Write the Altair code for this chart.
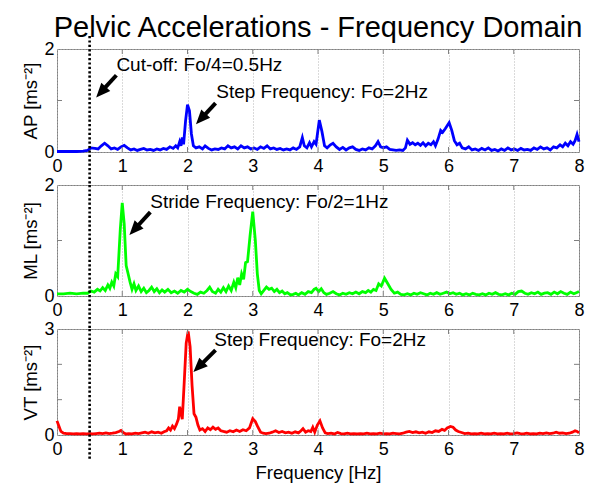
import math
import altair as alt
import pandas as pd

# ---------------- data ----------------
ap_f = [0.00,0.10,0.20,0.30,0.40,0.47,0.52,0.58,0.63,0.68,0.73,0.78,0.83,0.88,0.93,0.98,1.03,1.08,1.13,1.18,1.23,1.28,1.33,1.38,1.43,1.48,1.53,1.58,1.63,1.68,1.73,1.78,1.82,1.85,1.88,1.90,1.92,1.94,1.97,2.00,2.03,2.06,2.09,2.13,2.18,2.23,2.27,2.32,2.37,2.42,2.47,2.52,2.57,2.62,2.67,2.72,2.77,2.82,2.87,2.92,2.97,3.02,3.07,3.12,3.17,3.22,3.27,3.32,3.37,3.42,3.47,3.52,3.57,3.62,3.67,3.72,3.76,3.79,3.83,3.87,3.90,3.94,3.97,4.02,4.06,4.10,4.14,4.19,4.23,4.28,4.33,4.38,4.43,4.48,4.53,4.58,4.63,4.68,4.73,4.78,4.83,4.88,4.92,4.96,5.00,5.05,5.10,5.15,5.20,5.25,5.30,5.34,5.37,5.41,5.45,5.49,5.53,5.57,5.61,5.65,5.69,5.73,5.77,5.80,5.84,5.88,5.91,5.95,6.01,6.05,6.09,6.13,6.17,6.21,6.26,6.31,6.36,6.41,6.46,6.51,6.56,6.61,6.66,6.71,6.76,6.81,6.86,6.91,6.96,7.01,7.06,7.11,7.16,7.21,7.26,7.31,7.36,7.41,7.46,7.51,7.56,7.61,7.66,7.71,7.75,7.79,7.83,7.87,7.91,7.94,7.97,8.00]
ap_v = [0.01,0.01,0.01,0.01,0.015,0.03,0.08,0.07,0.06,0.12,0.17,0.12,0.06,0.08,0.05,0.10,0.13,0.08,0.04,0.06,0.03,0.05,0.07,0.04,0.05,0.03,0.06,0.04,0.07,0.05,0.10,0.07,0.12,0.08,0.20,0.12,0.28,0.15,0.60,0.92,0.80,0.35,0.12,0.08,0.10,0.06,0.12,0.07,0.04,0.06,0.05,0.08,0.06,0.12,0.08,0.10,0.06,0.12,0.08,0.10,0.06,0.08,0.05,0.10,0.07,0.12,0.06,0.08,0.05,0.07,0.04,0.06,0.04,0.08,0.05,0.10,0.28,0.12,0.08,0.18,0.10,0.20,0.15,0.62,0.40,0.12,0.08,0.14,0.17,0.10,0.05,0.09,0.04,0.08,0.10,0.05,0.03,0.06,0.04,0.08,0.06,0.12,0.20,0.10,0.08,0.10,0.05,0.04,0.03,0.04,0.03,0.08,0.23,0.15,0.18,0.14,0.17,0.13,0.18,0.12,0.17,0.14,0.20,0.12,0.25,0.42,0.38,0.45,0.57,0.42,0.22,0.14,0.17,0.08,0.06,0.10,0.04,0.06,0.03,0.07,0.04,0.08,0.03,0.05,0.02,0.06,0.03,0.08,0.04,0.06,0.03,0.07,0.04,0.05,0.03,0.08,0.05,0.10,0.06,0.08,0.04,0.10,0.08,0.14,0.10,0.17,0.12,0.20,0.15,0.22,0.34,0.20]

ml_f = [0.00,0.10,0.20,0.30,0.40,0.47,0.52,0.57,0.62,0.66,0.70,0.74,0.78,0.81,0.84,0.87,0.90,0.93,0.97,1.00,1.03,1.06,1.09,1.12,1.15,1.18,1.21,1.25,1.29,1.33,1.37,1.41,1.45,1.49,1.53,1.57,1.61,1.65,1.70,1.75,1.80,1.85,1.90,1.95,2.00,2.05,2.10,2.15,2.20,2.25,2.30,2.34,2.38,2.43,2.47,2.51,2.55,2.59,2.63,2.67,2.71,2.74,2.77,2.80,2.83,2.86,2.89,2.92,2.96,3.00,3.04,3.07,3.10,3.13,3.17,3.21,3.25,3.29,3.33,3.37,3.41,3.45,3.49,3.53,3.58,3.62,3.66,3.70,3.75,3.80,3.85,3.90,3.94,3.97,4.01,4.05,4.09,4.13,4.18,4.23,4.28,4.33,4.38,4.43,4.48,4.53,4.58,4.63,4.68,4.73,4.77,4.81,4.85,4.89,4.93,4.97,5.02,5.07,5.12,5.17,5.22,5.27,5.32,5.37,5.42,5.47,5.52,5.57,5.62,5.67,5.72,5.77,5.82,5.87,5.92,5.97,6.02,6.07,6.12,6.17,6.22,6.27,6.32,6.37,6.42,6.47,6.52,6.57,6.62,6.67,6.72,6.77,6.82,6.87,6.92,6.97,7.02,7.07,7.12,7.17,7.22,7.27,7.32,7.37,7.42,7.47,7.52,7.57,7.62,7.67,7.72,7.77,7.82,7.87,7.92,7.96,8.00]
ml_v = [0.04,0.04,0.05,0.04,0.05,0.05,0.09,0.07,0.12,0.09,0.15,0.10,0.20,0.14,0.25,0.18,0.40,0.35,1.20,1.68,1.30,0.55,0.40,0.25,0.12,0.22,0.10,0.18,0.08,0.14,0.06,0.10,0.16,0.08,0.13,0.06,0.11,0.07,0.12,0.06,0.09,0.05,0.10,0.07,0.12,0.08,0.05,0.03,0.07,0.05,0.10,0.16,0.08,0.05,0.12,0.07,0.15,0.08,0.18,0.10,0.25,0.15,0.33,0.20,0.40,0.30,0.60,0.62,1.10,1.52,1.00,0.40,0.10,0.04,0.10,0.16,0.12,0.14,0.08,0.12,0.06,0.09,0.04,0.06,0.02,0.03,0.05,0.02,0.06,0.03,0.08,0.06,0.12,0.14,0.08,0.13,0.06,0.03,0.05,0.08,0.04,0.02,0.05,0.03,0.06,0.04,0.07,0.04,0.08,0.06,0.10,0.07,0.12,0.10,0.22,0.18,0.32,0.22,0.12,0.05,0.07,0.03,0.02,0.04,0.02,0.05,0.03,0.06,0.04,0.02,0.05,0.03,0.06,0.03,0.05,0.07,0.04,0.06,0.03,0.05,0.02,0.04,0.02,0.05,0.03,0.02,0.04,0.02,0.05,0.03,0.06,0.03,0.02,0.04,0.02,0.05,0.03,0.08,0.09,0.05,0.03,0.06,0.04,0.07,0.03,0.05,0.06,0.03,0.07,0.04,0.08,0.05,0.03,0.07,0.04,0.06,0.08]

vt_f = [0.00,0.03,0.06,0.10,0.15,0.20,0.25,0.30,0.35,0.40,0.45,0.50,0.55,0.60,0.65,0.70,0.75,0.80,0.85,0.90,0.95,0.98,1.02,1.06,1.10,1.15,1.20,1.25,1.30,1.35,1.40,1.45,1.50,1.55,1.60,1.64,1.68,1.71,1.74,1.77,1.80,1.83,1.86,1.88,1.90,1.92,1.95,1.98,2.01,2.04,2.07,2.10,2.13,2.16,2.19,2.23,2.27,2.31,2.35,2.39,2.43,2.47,2.51,2.55,2.60,2.65,2.70,2.75,2.80,2.85,2.90,2.95,3.00,3.04,3.08,3.12,3.16,3.20,3.25,3.30,3.35,3.40,3.45,3.50,3.55,3.60,3.65,3.70,3.74,3.77,3.81,3.85,3.89,3.92,3.95,3.99,4.03,4.07,4.11,4.15,4.20,4.25,4.30,4.35,4.40,4.45,4.50,4.55,4.60,4.65,4.70,4.75,4.80,4.85,4.90,4.95,5.00,5.05,5.10,5.15,5.20,5.25,5.30,5.35,5.40,5.45,5.50,5.55,5.60,5.65,5.70,5.75,5.80,5.85,5.90,5.94,5.98,6.03,6.07,6.11,6.15,6.20,6.25,6.30,6.35,6.40,6.45,6.50,6.55,6.60,6.65,6.70,6.75,6.80,6.85,6.90,6.95,7.00,7.05,7.10,7.15,7.20,7.25,7.30,7.35,7.40,7.45,7.50,7.55,7.60,7.65,7.70,7.75,7.80,7.85,7.90,7.94,7.97,8.00]
vt_v = [0.40,0.25,0.10,0.05,0.04,0.04,0.03,0.04,0.03,0.04,0.03,0.04,0.03,0.04,0.05,0.04,0.06,0.04,0.05,0.07,0.10,0.13,0.06,0.03,0.04,0.03,0.05,0.04,0.06,0.08,0.05,0.09,0.06,0.08,0.05,0.09,0.12,0.20,0.14,0.25,0.18,0.30,0.45,0.80,0.60,0.45,1.50,2.60,2.93,2.50,1.40,0.60,0.50,0.28,0.14,0.18,0.10,0.20,0.15,0.22,0.16,0.20,0.12,0.10,0.08,0.12,0.09,0.14,0.10,0.15,0.12,0.20,0.46,0.38,0.22,0.08,0.05,0.04,0.05,0.08,0.12,0.07,0.10,0.06,0.08,0.05,0.09,0.06,0.12,0.18,0.08,0.12,0.10,0.22,0.08,0.28,0.40,0.20,0.06,0.04,0.05,0.03,0.07,0.04,0.03,0.05,0.03,0.04,0.03,0.04,0.03,0.05,0.03,0.04,0.03,0.05,0.03,0.04,0.03,0.05,0.04,0.03,0.05,0.08,0.10,0.07,0.09,0.06,0.08,0.05,0.09,0.07,0.12,0.10,0.16,0.13,0.20,0.24,0.22,0.14,0.10,0.07,0.04,0.05,0.03,0.04,0.03,0.05,0.03,0.04,0.03,0.05,0.03,0.04,0.03,0.05,0.03,0.04,0.06,0.04,0.03,0.05,0.03,0.04,0.03,0.05,0.04,0.06,0.04,0.05,0.08,0.05,0.06,0.04,0.05,0.08,0.12,0.10,0.06]

panel_labels = ["AP [ms⁻²]", "ML [ms⁻²]", "VT [ms⁻²]"]
panel_ymax = [2, 2, 3]
panel_colors = ["#0000ff", "#00ff00", "#ff0000"]
cutoff_hz = [0.5]
x_ticks = [0, 1, 2, 3, 4, 5, 6, 7, 8]

# annotations per panel: text, text x, text y, arrow tail x/y, arrow tip x/y
note_text = [["Cut-off: Fo/4=0.5Hz", "Step Frequency: Fo=2Hz"],
             ["Stride Frequency: Fo/2=1Hz"],
             ["Step Frequency: Fo=2Hz"]]
note_x = [[0.91, 2.44], [1.43], [2.41]]
note_y = [[1.57, 1.05], [1.58], [2.52]]
tail_x = [[0.91, 2.43], [1.43], [2.43]]
tail_y = [[1.49, 0.95], [1.51], [2.40]]
tip_x = [[0.60, 2.13], [1.11], [2.09]]
tip_y = [[1.06, 0.54], [1.10], [1.78]]

# ---------------- layout / style ----------------
FONT = "Liberation Sans"
W = 522
HEIGHTS = [103, 111, 106]
SPACING = 33
HEAD_PATH = "M0,0 L-0.55,1.3 L0.55,1.3 Z"
HEAD_SIZE = 484
HEAD_LEN = 14.3
FRAME = "#808080"
GRID = "#b4b4b4"

series = [(ap_f, ap_v), (ml_f, ml_v), (vt_f, vt_v)]


def make_panel(i):
    f, v = series[i]
    H = HEIGHTS[i]
    ymax = panel_ymax[i]
    y_ticks = list(range(ymax + 1))
    df = pd.DataFrame({"f": f, "v": v})
    xs = W / 8.0
    ys = H / ymax

    xscale = alt.Scale(domain=[0, 8], nice=False, zero=False)
    yscale = alt.Scale(domain=[0, ymax], nice=False)
    xaxis = alt.Axis(values=x_ticks, format="d", grid=True, gridDash=[1, 2],
                     gridColor=GRID, domain=False, ticks=False, labelFontSize=18,
                     labelFont=FONT, labelColor="black", labelPadding=5,
                     labelFlush=False, labelOverlap=False,
                     title="Frequency [Hz]" if i == 2 else None,
                     titleFont=FONT, titleFontSize=18.6, titleFontWeight="normal",
                     titleColor="black", titlePadding=5)
    yaxis = alt.Axis(values=y_ticks, format="d", grid=True, gridDash=[1, 2],
                     gridColor=GRID, domain=False, ticks=False,
                     labelFontSize=18, labelFont=FONT, labelColor="black",
                     labelPadding=3, labelFlush=False, labelOverlap=False,
                     title=panel_labels[i], titleFont=FONT, titleFontSize=18.6,
                     titleFontWeight="normal", titleColor="black", titlePadding=3)

    line = alt.Chart(df).mark_line(color=panel_colors[i], strokeWidth=2.8).encode(
        x=alt.X("f:Q", scale=xscale, axis=xaxis),
        y=alt.Y("v:Q", scale=yscale, axis=yaxis),
    )

    # inward ticks on all four sides (MATLAB box style)
    xt = alt.Chart(pd.DataFrame({"t": x_ticks[1:-1]}))
    xt_top = xt.mark_rule(color=FRAME, strokeWidth=1).encode(
        x=alt.X("t:Q", scale=xscale), y=alt.value(0), y2=alt.value(5))
    xt_bot = xt.mark_rule(color=FRAME, strokeWidth=1).encode(
        x=alt.X("t:Q", scale=xscale), y=alt.value(H - 5), y2=alt.value(H))
    yt = alt.Chart(pd.DataFrame({"t": y_ticks[1:-1]}))
    yt_left = yt.mark_rule(color=FRAME, strokeWidth=1).encode(
        y=alt.Y("t:Q", scale=yscale), x=alt.value(0), x2=alt.value(5))
    yt_right = yt.mark_rule(color=FRAME, strokeWidth=1).encode(
        y=alt.Y("t:Q", scale=yscale), x=alt.value(W - 5), x2=alt.value(W))

    # cut-off dotted line, running across the gaps between panels
    top = -13 if i == 0 else 0
    bottom = H + (SPACING if i < 2 else 24)
    cut = alt.Chart(pd.DataFrame({"c": cutoff_hz})).mark_rule(
        color="black", strokeWidth=2.6, strokeDash=[2.2, 2.2]).encode(
        x=alt.X("c:Q", scale=xscale), y=alt.value(top), y2=alt.value(bottom))

    rows = []
    for k in range(len(note_text[i])):
        dx = (tip_x[i][k] - tail_x[i][k]) * xs
        dy = -(tip_y[i][k] - tail_y[i][k]) * ys
        L = math.hypot(dx, dy)
        frac = max(0.0, 1 - (HEAD_LEN * 0.8) / L)
        ang = math.degrees(math.atan2(dx, -dy)) % 360
        rows.append({
            "t": note_text[i][k], "tx": note_x[i][k], "ty": note_y[i][k],
            "ax": tail_x[i][k], "ay": tail_y[i][k],
            "bx": tail_x[i][k] + (tip_x[i][k] - tail_x[i][k]) * frac,
            "by": tail_y[i][k] + (tip_y[i][k] - tail_y[i][k]) * frac,
            "hx": tip_x[i][k], "hy": tip_y[i][k], "ang": ang,
        })
    ndf = pd.DataFrame(rows)
    base = alt.Chart(ndf)
    txt = base.mark_text(align="left", baseline="alphabetic", font=FONT,
                         fontSize=19, color="black").encode(
        x=alt.X("tx:Q", scale=xscale), y=alt.Y("ty:Q", scale=yscale), text="t:N")
    shaft = base.mark_rule(color="black", strokeWidth=4).encode(
        x=alt.X("ax:Q", scale=xscale), y=alt.Y("ay:Q", scale=yscale),
        x2="bx:Q", y2="by:Q")
    head = base.mark_point(shape=HEAD_PATH, filled=True, size=HEAD_SIZE,
                           color="black", opacity=1).encode(
        x=alt.X("hx:Q", scale=xscale), y=alt.Y("hy:Q", scale=yscale),
        angle=alt.Angle("ang:Q", scale=None))

    return alt.layer(line, xt_top, xt_bot, yt_left, yt_right, cut, shaft, head, txt
                     ).properties(width=W, height=H)


chart = alt.vconcat(
    make_panel(0), make_panel(1), make_panel(2), spacing=SPACING, bounds="flush"
).properties(
    title=alt.TitleParams("Pelvic Accelerations - Frequency Domain", font=FONT,
                          fontSize=29, fontWeight="normal", color="black",
                          anchor="middle", frame="group", offset=-9),
    padding={"left": 21, "top": 14, "right": 2, "bottom": 0},
    background="white",
).configure_view(stroke=FRAME, strokeWidth=1)

chart.save("out.html", embed_options={"renderer": "svg", "actions": False})
